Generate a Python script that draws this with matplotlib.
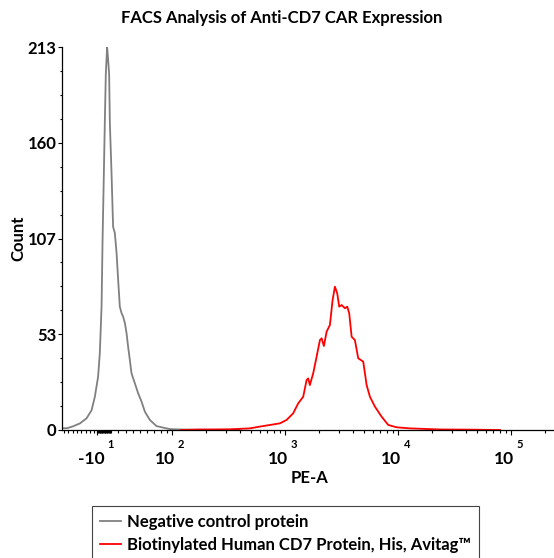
import numpy as np
import matplotlib
matplotlib.use('Agg')
import matplotlib.pyplot as plt
from matplotlib.lines import Line2D
import matplotlib.transforms as mtransforms

plt.rcParams['font.family'] = ['Lato', 'DejaVu Sans']
plt.rcParams['font.weight'] = 'bold'

# histogram traces (PE-A value, count)
neg_pe = [-58, -51, -43, -33, -24, -17, -12.5, -8, -5.6, -3.2,
          -1.8, 0, 1.3, 2.7, 4.5, 5.9, 7.3, 8.3, 10.6, 12.8,
          15.2, 17.6, 19.8, 22.1, 24.5, 26.7, 29.1, 31.4, 33.6, 36,
          38.3, 42.9, 47.5, 52.2, 56.8, 63.7, 73, 84, 96, 118,
          200, 400]
neg_count = [1, 1, 2, 3.7, 6.5, 11, 18.5, 29.6, 42.8, 68.6,
             105.7, 143, 170.7, 198, 213, 205.8, 198, 170.7, 143, 113,
             109.5, 98.4, 83.4, 68.6, 65, 63, 59.5, 53.9, 46.3, 38.9,
             31.5, 26, 20.4, 15.8, 10.2, 5.6, 2.2, 1.3, 0.5, 0.3,
             0, 0]

cd7_pe = [120, 177, 217, 326, 489, 601, 737, 903, 1035, 1184,
          1311, 1452, 1556, 1607, 1663, 1779, 1908, 2041, 2113, 2213,
          2339, 2501, 2642, 2770, 2903, 3024, 3177, 3396, 3559, 3707,
          3893, 4161, 4453, 4932, 5284, 5652, 6256, 7174, 8207, 9738,
          12770, 15660, 23540, 43380, 80000]
cd7_count = [0, 0.3, 0.3, 0.4, 0.9, 1.9, 2.8, 3.7, 5.6, 9.3,
             14.8, 18.5, 27.8, 28.7, 25, 31.5, 40.8, 50, 51, 46.7,
             54.7, 58.4, 72.3, 79.7, 76, 68.6, 69.5, 67.7, 68.6, 64.9,
             51.9, 50, 39.9, 38, 25, 18.5, 13, 7.4, 2.8, 1.5,
             0.9, 0.7, 0.3, 0.2, 0]

series_names = ['Negative control protein',
                'Biotinylated Human CD7 Protein, His, Avitag\u2122']
series_colors = ['#808080', '#ff0000']

y_ticks = [0, 53.25, 106.5, 159.75, 213]
y_labels = ['0', '53', '107', '160', '213']
x_ticks = [-10, 100, 1000, 10000, 100000]
x_bases = ['-10', '10', '10', '10', '10']
x_exps = ['1', '2', '3', '4', '5']

# biexponential-like axis: linear near zero, log above T
T = 68.0
LT = np.log10(T)

def fwd(x):
    x = np.asarray(x, dtype=float)
    return np.where(x >= T, np.log10(np.maximum(x, T)),
                    LT + (x - T) / (T * np.log(10)))

def inv(y):
    y = np.asarray(y, dtype=float)
    return np.where(y >= LT, 10 ** np.clip(y, LT, 12),
                    T + (y - LT) * T * np.log(10))

fig = plt.figure(figsize=(5.54, 5.58), dpi=100)
ax = fig.add_axes([62/554, 128/558, 491/554, 383/558])
ax.set_xscale('function', functions=(fwd, inv))

ax.plot(neg_pe, neg_count, color=series_colors[0], lw=1.3)
ax.plot(cd7_pe, cd7_count, color=series_colors[1], lw=1.3)

ax.set_xlim(-58, 235500)
ax.set_ylim(0, 213)

for s in ['top', 'right']:
    ax.spines[s].set_visible(False)
for s in ['left', 'bottom']:
    ax.spines[s].set_linewidth(0.9)

# y axis
ax.set_yticks(y_ticks)
ax.set_yticklabels(y_labels)
ax.set_yticks(np.arange(0, 213.01, 213/16), minor=True)
ax.tick_params(axis='y', which='major', length=3, width=0.8, pad=1, labelsize=12)
ax.tick_params(axis='y', which='minor', length=1.8, width=0.8)

# x axis
minor_x = list(range(-10, 11)) + list(range(-55, -10, 6)) + list(range(20, 100, 10))
for dec in [100, 1000, 10000, 100000]:
    minor_x += [dec * k for k in range(2, 10)]
minor_x = [v for v in minor_x if v < 235500]
ax.set_xticks(x_ticks)
ax.set_xticklabels([''] * len(x_ticks))
ax.set_xticks(minor_x, minor=True)
ax.tick_params(axis='x', which='major', length=3.5, width=0.8)
ax.tick_params(axis='x', which='minor', length=2, width=0.8)

xt = ax.get_xaxis_transform()
for v, b, e in zip(x_ticks, x_bases, x_exps):
    shift = 8 if b.startswith('-') else 3.5
    tb = mtransforms.offset_copy(xt, fig=fig, x=shift * 0.72, y=0, units='points')
    te = mtransforms.offset_copy(xt, fig=fig, x=(shift + 2.5) * 0.72, y=0, units='points')
    ax.text(v, -0.088, b, transform=tb, ha='right', va='baseline', fontsize=12.5)
    ax.text(v, -0.046, e, transform=te, ha='left', va='baseline', fontsize=8)

ax.set_xlabel('PE-A', fontsize=12, fontweight='bold')
ax.xaxis.set_label_coords((310 - 62) / 491, (430 - 478) / 383)
ax.xaxis.label.set_va('center')
ax.set_ylabel('Count', fontsize=12, fontweight='bold')
ax.yaxis.set_label_coords((18 - 62) / 491, (430 - 238) / 383)
ax.yaxis.label.set_va('center')

fig.text(282/554, 1 - 18/558, 'FACS Analysis of Anti-CD7 CAR Expression',
         ha='center', va='center', fontsize=12, fontweight='bold')

handles = [Line2D([], [], color=c, lw=1.3) for c in series_colors]
leg = fig.legend(handles, series_names, loc='upper left',
                 bbox_to_anchor=(92/554, 1 - 506/558), borderaxespad=0,
                 frameon=True, fancybox=False, edgecolor='#444444', framealpha=1,
                 handlelength=1.3, handletextpad=0.35, borderpad=0.45,
                 labelspacing=0.45, prop={'weight': 'bold', 'size': 12})
leg.get_frame().set_linewidth(0.8)

fig.savefig('out.png', dpi=100)
